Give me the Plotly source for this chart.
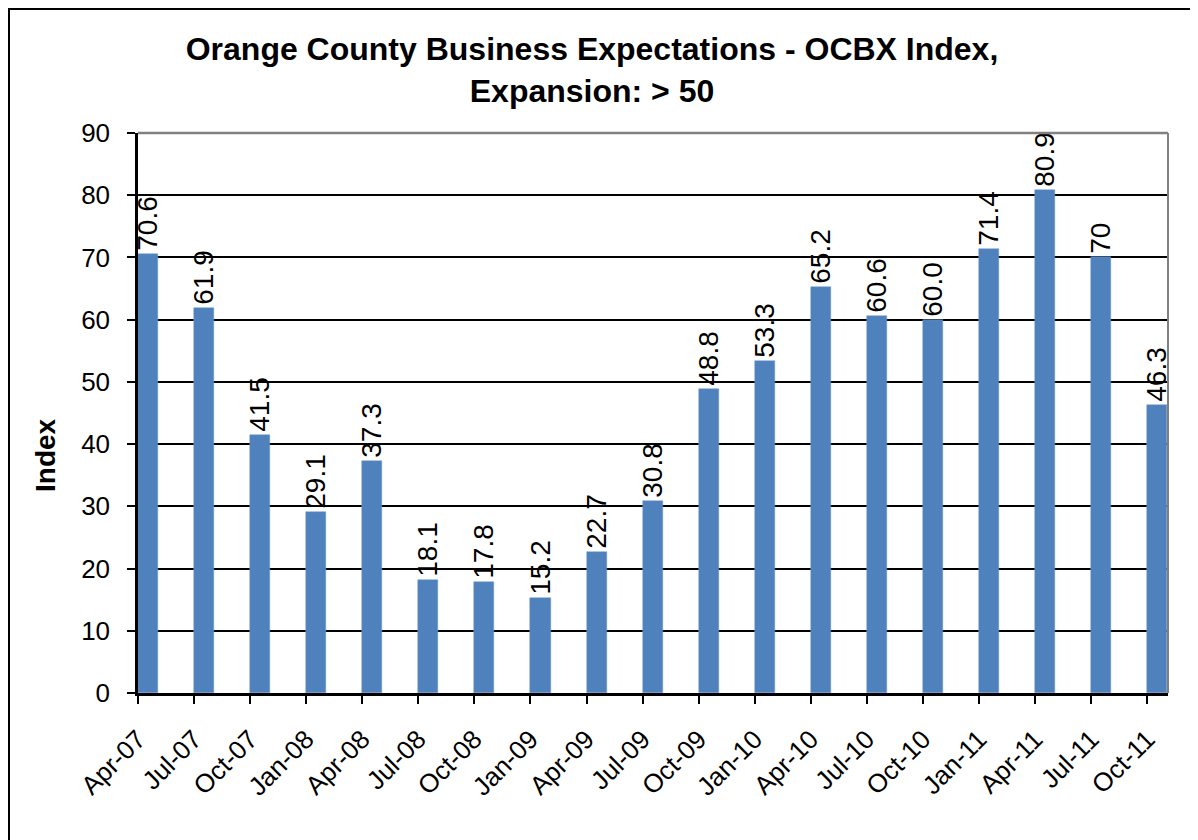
import plotly.graph_objects as go

categories = ["Apr-07", "Jul-07", "Oct-07", "Jan-08", "Apr-08", "Jul-08", "Oct-08", "Jan-09",
              "Apr-09", "Jul-09", "Oct-09", "Jan-10", "Apr-10", "Jul-10", "Oct-10", "Jan-11",
              "Apr-11", "Jul-11", "Oct-11"]
values = [70.6, 61.9, 41.5, 29.1, 37.3, 18.1, 17.8, 15.2, 22.7, 30.8, 48.8, 53.3, 65.2, 60.6,
          60.0, 71.4, 80.9, 70, 46.3]
labels = ["70.6", "61.9", "41.5", "29.1", "37.3", "18.1", "17.8", "15.2", "22.7", "30.8", "48.8",
          "53.3", "65.2", "60.6", "60.0", "71.4", "80.9", "70", "46.3"]
y_ticks = [0, 10, 20, 30, 40, 50, 60, 70, 80, 90]

FONT = "Liberation Sans, Arial, sans-serif"

# page has an 8px body margin, so the figure is 8px smaller and all positions shifted by 8
W, H = 1190, 832
L, R, T, B = 130, 30, 125, 147
pw, ph = W - L - R, H - T - B

def px(x):
    return (x - L) / pw

def py(y):
    return (H - B - y) / ph

fig = go.Figure()
fig.add_trace(go.Bar(
    x=categories, y=values, text=labels,
    textposition="outside", textangle=-90, constraintext="none", cliponaxis=False,
    textfont=dict(family=FONT, size=28, color="black"),
    offset=0, width=0.357,
    marker=dict(color="#4F81BD", line=dict(color="#6F98CC", width=0.5)),
))

fig.update_layout(
    width=W, height=H,
    margin=dict(l=L, r=R, t=T, b=B, autoexpand=False),
    paper_bgcolor="white", plot_bgcolor="white",
    showlegend=False,
    bargap=0,
    title=dict(
        text="Orange County Business Expectations - OCBX Index,<br>Expansion: > 50",
        font=dict(family=FONT, size=32, color="black", weight="bold"),
        x=584 / W, xanchor="center", xref="container",
        y=1 - 52 / H, yanchor="middle", yref="container",
    ),
    xaxis=dict(
        type="category", range=[0, 18.37],
        tickangle=-45, ticks="outside", ticklen=8, tickwidth=2, tickcolor="black",
        tickfont=dict(family=FONT, size=26, color="black"),
        ticklabelstandoff=10,
        showline=True, linecolor="black", linewidth=2.5,
        showgrid=False, zeroline=False,
    ),
    yaxis=dict(
        range=[0, 90], tickvals=y_ticks,
        ticks="outside", ticklen=8, tickwidth=2, tickcolor="black",
        tickfont=dict(family=FONT, size=26, color="black"),
        ticklabelstandoff=12,
        showline=True, linecolor="black", linewidth=2.5,
        showgrid=True, gridcolor="black", gridwidth=1.5, zeroline=False,
    ),
    annotations=[
        dict(text="<b>Index</b>", xref="paper", yref="paper", x=px(37), y=py(447),
             xanchor="center", yanchor="middle", textangle=-90, showarrow=False,
             font=dict(family=FONT, size=28, color="black")),
    ],
    shapes=[
        dict(type="line", xref="paper", yref="paper", x0=0, x1=1, y0=1, y1=1,
             line=dict(color="#808080", width=2.5), layer="above"),
        dict(type="line", xref="paper", yref="paper", x0=1, x1=1, y0=0, y1=1,
             line=dict(color="#808080", width=2), layer="above"),
        dict(type="rect", xref="paper", yref="paper",
             x0=px(1), x1=px(1188.5), y0=py(845), y1=py(1),
             line=dict(color="black", width=2), fillcolor="rgba(0,0,0,0)", layer="above"),
    ],
)

fig.write_html("out.html")
